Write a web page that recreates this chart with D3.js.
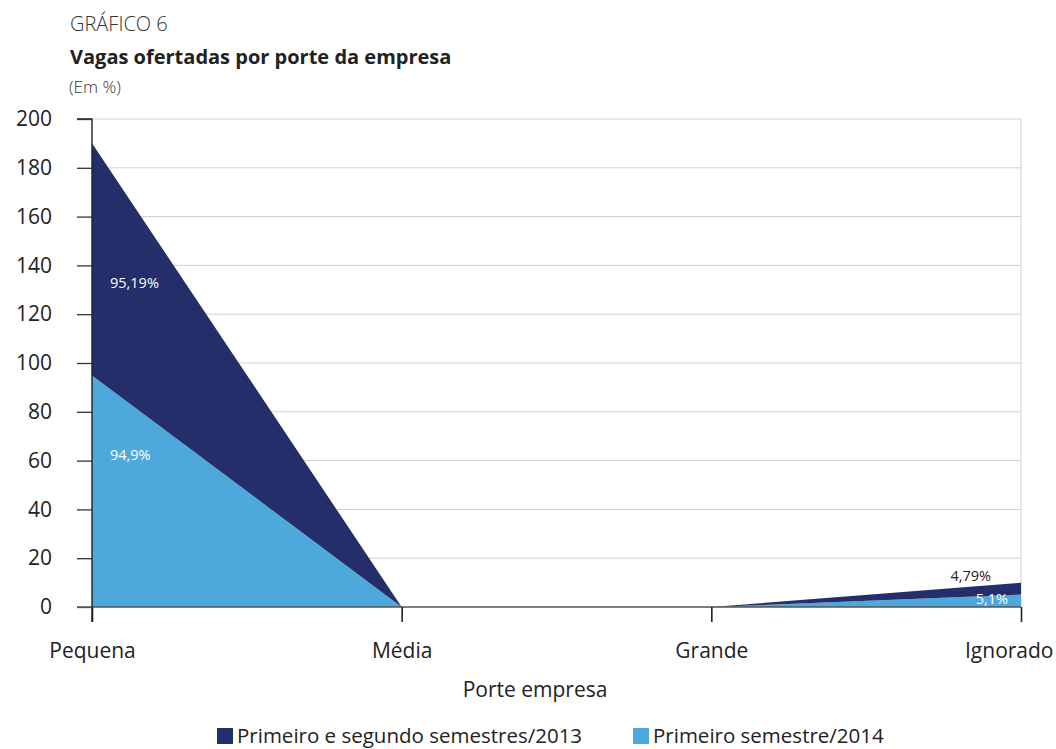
<!DOCTYPE html>
<html>
<head>
<meta charset="utf-8">
<script src="https://cdn.jsdelivr.net/npm/d3@7"></script>
<style>
  html, body { margin: 0; padding: 0; background: #fff; }
  svg { display: block; font-family: "Open Sans", "Noto Sans", sans-serif; }
</style>
</head>
<body>
<svg id="chart" width="1056" height="749"></svg>
<script>
// Company size categories and the share of vacancies (%) per period
const categories = ["Pequena", "Média", "Grande", "Ignorado"];
const series2013 = [95.19, 0, 0, 4.79];
const series2014 = [94.9, 0, 0, 5.1];
const yTicks = [0, 20, 40, 60, 80, 100, 120, 140, 160, 180, 200];
const seriesNames = ["Primeiro e segundo semestres/2013", "Primeiro semestre/2014"];
const labels2013 = ["95,19%", null, null, "4,79%"];
const labels2014 = ["94,9%", null, null, "5,1%"];

const colorDark = "#242e6a";
const colorLight = "#4da8db";
const FONT = "'Open Sans', 'Noto Sans', sans-serif";

const svg = d3.select("#chart");
const plotLeft = 92, plotRight = 1021, plotTop = 119, plotBottom = 607;

const x = d3.scalePoint().domain(categories).range([plotLeft, plotRight]);
const y = d3.scaleLinear().domain([0, 200]).range([plotBottom, plotTop]);

// Header texts
svg.append("text").attr("x", 70).attr("y", 31)
  .attr("font-size", 20).attr("font-weight", 300).attr("fill", "#333")
  .text("GRÁFICO 6");
svg.append("text").attr("x", 70).attr("y", 64)
  .attr("font-size", 20).attr("font-weight", 700).attr("fill", "#222")
  .text("Vagas ofertadas por porte da empresa");
svg.append("text").attr("x", 69).attr("y", 93)
  .attr("font-size", 17).attr("font-weight", 300).attr("fill", "#333")
  .text("(Em %)");

// Horizontal gridlines
svg.append("g").selectAll("line").data(yTicks.filter(d => d > 0)).join("line")
  .attr("x1", plotLeft).attr("x2", plotRight)
  .attr("y1", d => y(d)).attr("y2", d => y(d))
  .attr("stroke", "#d0d0d0").attr("stroke-width", 1);
// Right border
svg.append("line").attr("x1", plotRight).attr("x2", plotRight)
  .attr("y1", plotTop).attr("y2", plotBottom).attr("stroke", "#d0d0d0");

// Stacked areas
const rows = categories.map((c, i) => ({ cat: c, s2014: series2014[i], s2013: series2013[i] }));
const stacked = d3.stack().keys(["s2014", "s2013"])(rows);
const area = d3.area()
  .x(d => x(d.data.cat))
  .y0(d => y(d[0]))
  .y1(d => y(d[1]));
const colors = { s2014: colorLight, s2013: colorDark };
svg.append("g").selectAll("path").data(stacked).join("path")
  .attr("d", area)
  .attr("fill", d => colors[d.key]);

// Zero line and axes
svg.append("line").attr("x1", plotLeft - 15).attr("x2", plotRight)
  .attr("y1", y(0)).attr("y2", y(0)).attr("stroke", "#555").attr("stroke-width", 1.4);

const yAxis = d3.axisLeft(y).tickValues(yTicks).tickSize(15).tickPadding(25);
const gy = svg.append("g").attr("transform", `translate(${plotLeft},0)`).call(yAxis);
gy.select(".domain").attr("stroke", "#222").attr("stroke-width", 1.4)
  .attr("d", `M-15,${y(200)}H0V${y(0) + 15}`);
gy.selectAll(".tick line").attr("stroke", "#333").attr("stroke-width", 1.3);
gy.selectAll(".tick").filter(d => d === 0).select("line").attr("stroke", "#555");
gy.selectAll(".tick text").attr("font-size", 21).attr("fill", "#222")
  .attr("font-family", FONT).attr("x", -40);

const xAxis = d3.axisBottom(x).tickSize(15).tickPadding(21);
const gx = svg.append("g").attr("transform", `translate(0,${y(0)})`).call(xAxis);
gx.select(".domain").remove();
gx.selectAll(".tick line").attr("stroke", "#222").attr("stroke-width", 1.6);
gx.selectAll(".tick text").attr("font-size", 21).attr("fill", "#222")
  .attr("font-family", FONT);
// keep the last category label inside the page
gx.selectAll(".tick text").filter(d => d === "Ignorado").attr("text-anchor", "end").attr("x", 1053 - plotRight);

svg.append("text").attr("x", 535).attr("y", 697).attr("text-anchor", "middle")
  .attr("font-size", 21).attr("fill", "#222").text("Porte empresa");

// Value labels
svg.append("text").attr("x", 110).attr("y", y(series2014[0] + series2013[0] * 0.375))
  .attr("font-size", 14.5).attr("fill", "#fff").text(labels2013[0]);
svg.append("text").attr("x", 110).attr("y", y(series2014[0] * 0.635))
  .attr("font-size", 14.5).attr("fill", "#fff").text(labels2014[0]);
svg.append("text").attr("x", 991).attr("y", y(series2014[3] + series2013[3]) - 2)
  .attr("text-anchor", "end").attr("font-size", 14.5).attr("fill", "#222").text(labels2013[3]);
svg.append("text").attr("x", 1008).attr("y", y(0) - 3)
  .attr("text-anchor", "end").attr("font-size", 14.5).attr("fill", "#fff").text(labels2014[3]);

// Legend
const legend = [
  { name: seriesNames[0], color: colorDark, x: 217 },
  { name: seriesNames[1], color: colorLight, x: 633 }
];
const lg = svg.append("g").selectAll("g").data(legend).join("g")
  .attr("transform", d => `translate(${d.x},728)`);
lg.append("rect").attr("width", 16).attr("height", 16).attr("fill", d => d.color);
lg.append("text").attr("x", 20).attr("y", 15).attr("font-size", 20.5).attr("fill", "#222")
  .text(d => d.name);
</script>
</body>
</html>
